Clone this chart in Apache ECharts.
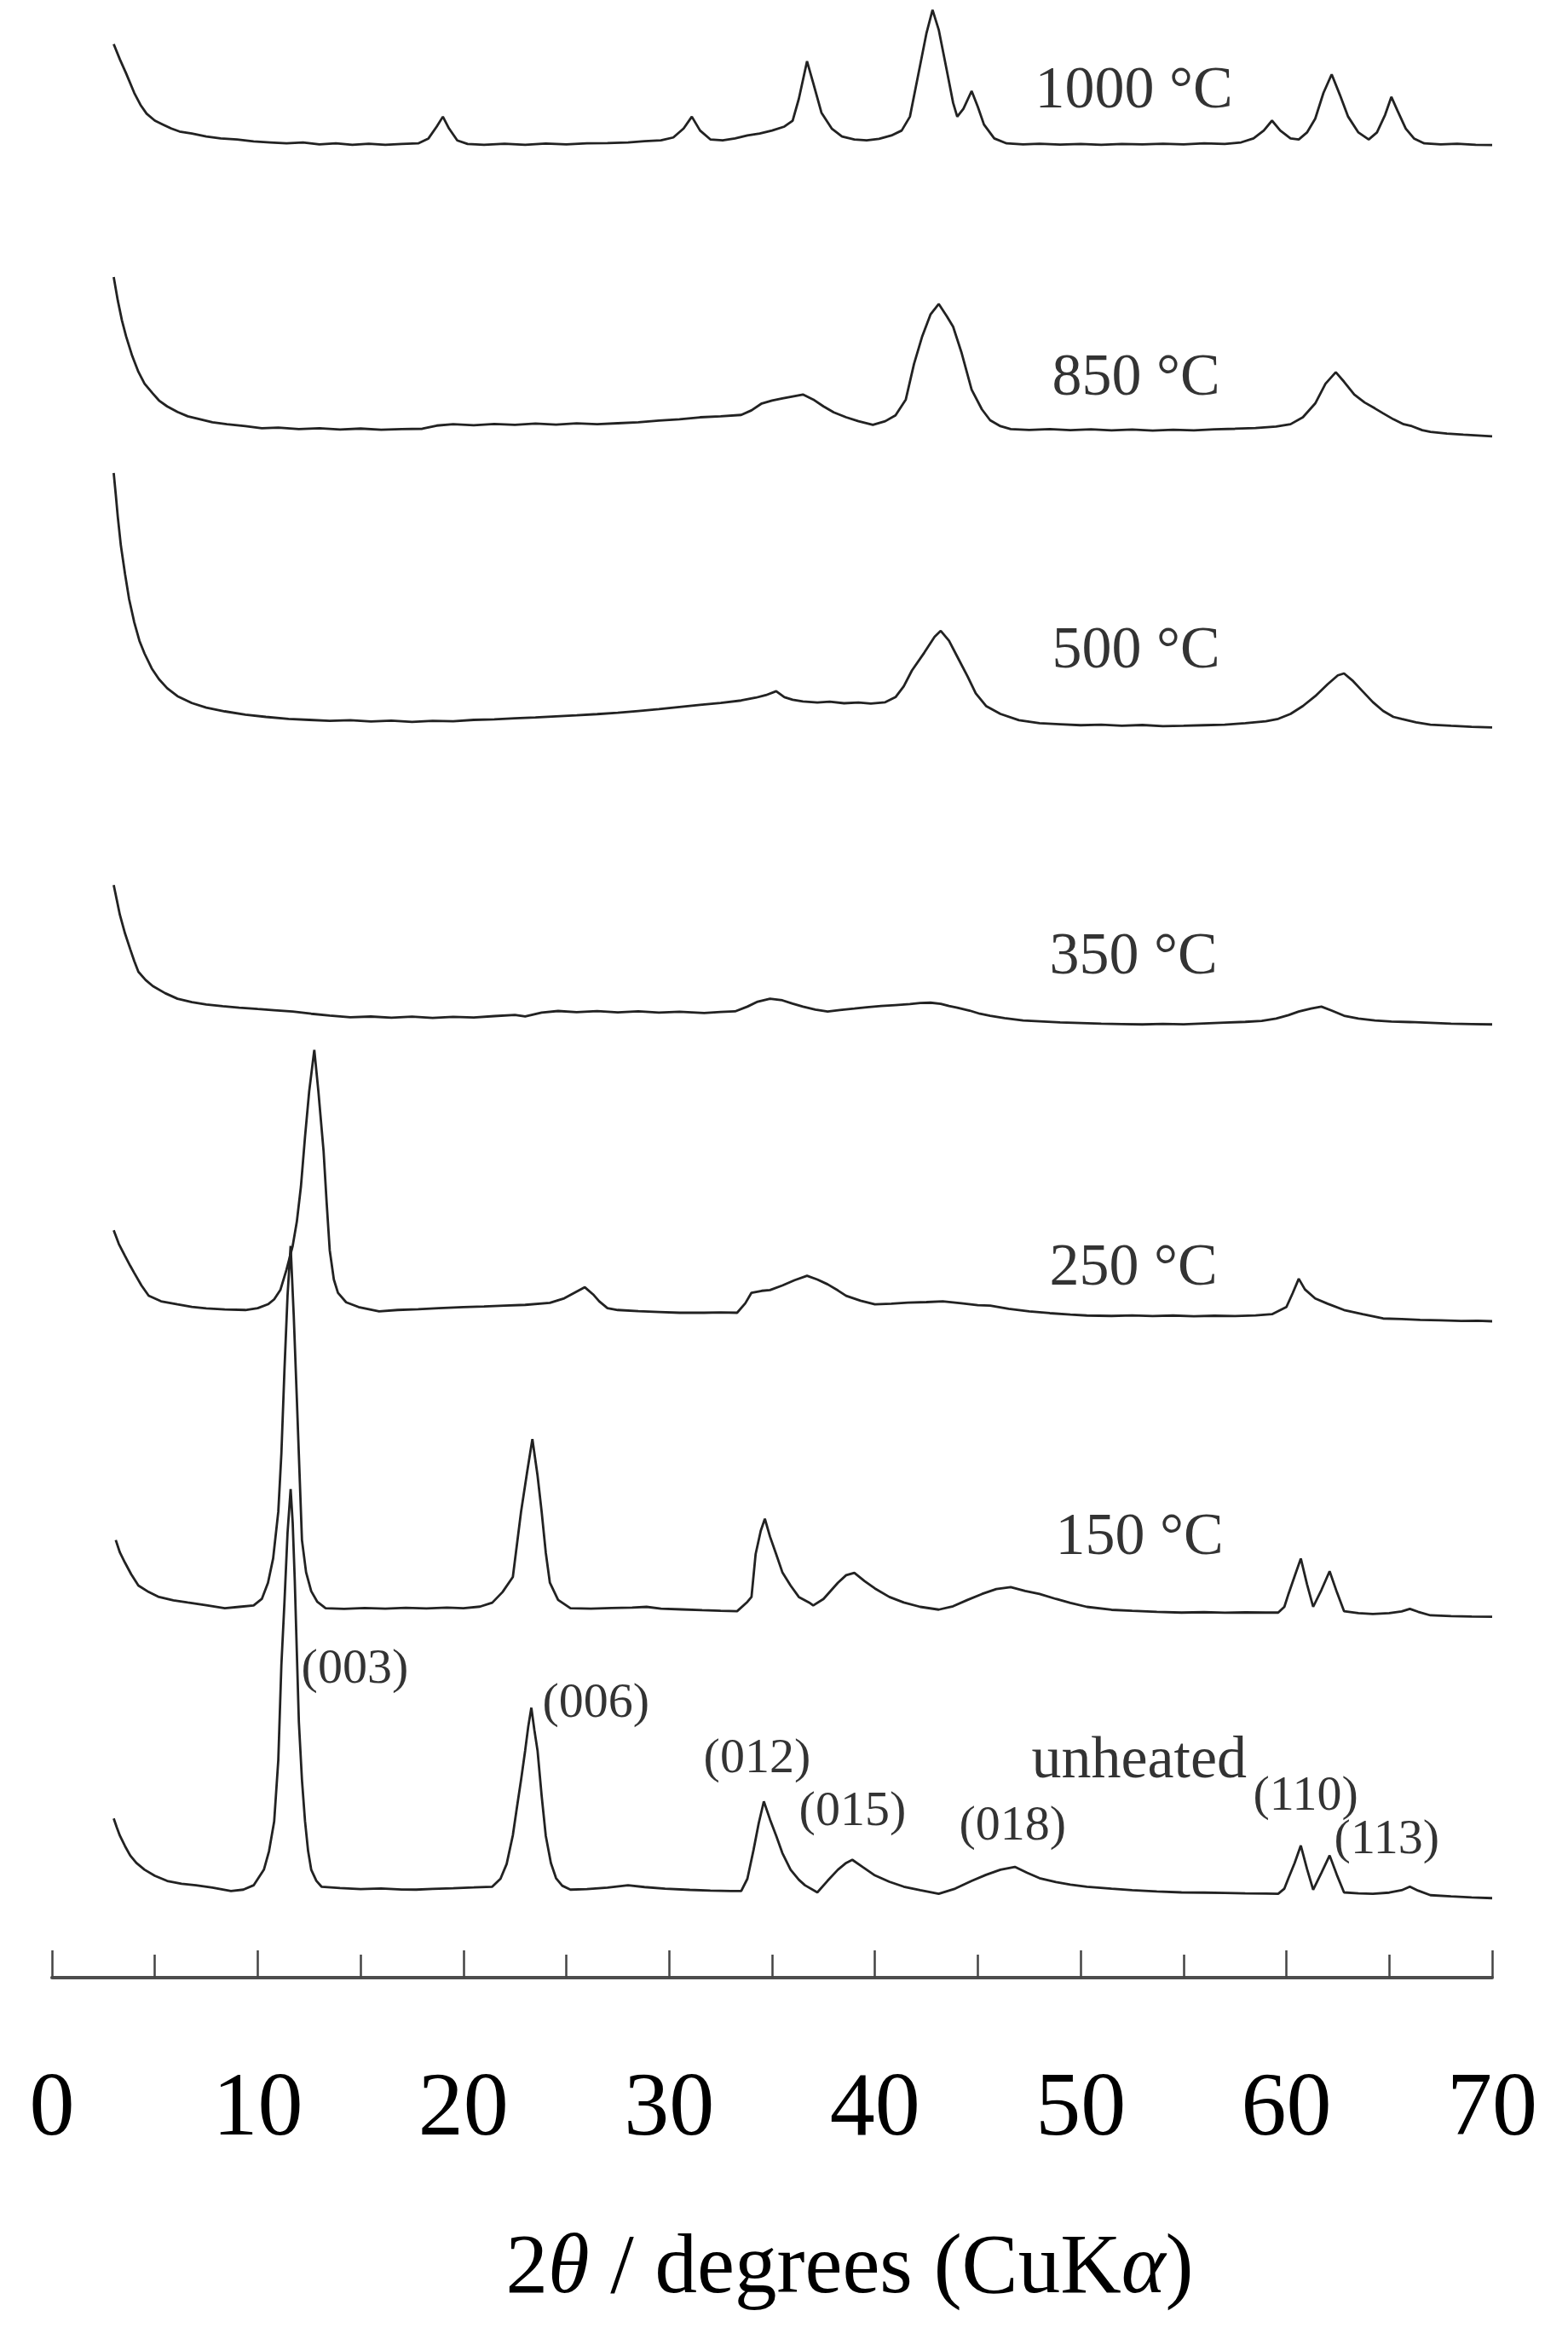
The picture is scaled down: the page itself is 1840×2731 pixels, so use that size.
<!DOCTYPE html>
<html>
<head>
<meta charset="utf-8">
<script src="https://cdn.jsdelivr.net/npm/echarts@6/dist/echarts.min.js"></script>
<style>
html,body{margin:0;padding:0;background:#fff;}
#chart{width:1840px;height:2731px;}
</style>
</head>
<body>
<div id="chart"></div>
<script>
// XRD patterns: [2theta (deg), stacked intensity (a.u.)]
const trace1000 = [[3.0,977.7],[3.3,970],[3.6,963],[4.0,953],[4.3,947],[4.6,942.5],[5.0,939],[5.4,937],[5.8,935],[6.2,933.5],[6.8,932.5],[7.5,931],[8.2,930],[9.0,929.5],[9.8,928.5],[10.6,928],[11.4,927.5],[12.2,928],[13.0,927],[13.8,927.5],[14.6,926.8],[15.4,927.3],[16.2,926.8],[17.0,927.2],[17.8,927.5],[18.3,930],[18.7,936],[19.0,941],[19.3,935],[19.7,929],[20.2,927.2],[21.0,926.8],[22.0,927.3],[23.0,926.8],[24.0,927.4],[25.0,927],[26.0,927.5],[27.0,927.6],[28.0,928],[28.8,928.6],[29.6,929],[30.2,930.5],[30.7,935],[31.1,941],[31.5,934],[32.0,929.5],[32.6,929],[33.2,930],[33.8,931.5],[34.4,932.5],[35.0,934],[35.6,936],[36.0,939],[36.3,950],[36.7,969],[37.0,958],[37.4,943],[37.9,935],[38.4,931],[39.0,929.5],[39.6,929],[40.2,929.8],[40.8,931.5],[41.3,934],[41.7,941],[42.1,962],[42.5,983],[42.8,995],[43.1,985],[43.5,964],[43.8,948],[44.0,941],[44.3,945],[44.7,954],[45.0,946],[45.3,937],[45.8,930],[46.4,927.5],[47.2,927],[48.0,927.3],[49.0,926.9],[50.0,927.2],[51.0,926.8],[52.0,927.2],[53.0,927],[54.0,927.3],[55.0,927],[56.0,927.5],[57.0,927.2],[57.8,928],[58.4,930],[58.9,934],[59.3,939],[59.7,934],[60.2,930],[60.6,929.5],[61.0,933],[61.4,940],[61.8,953],[62.2,962.4],[62.6,952],[63.0,941],[63.5,933],[64.0,929.5],[64.4,933],[64.8,942],[65.1,951],[65.4,944],[65.8,935],[66.2,930],[66.7,927.5],[67.5,927],[68.3,927.3],[69.2,926.8],[70.0,926.7]];

const trace850 = [[3.0,859.9],[3.2,848],[3.4,838],[3.6,830],[3.9,820],[4.2,812],[4.5,806],[4.9,801],[5.2,797.5],[5.6,794.5],[6.1,791.7],[6.6,789.5],[7.2,788],[7.8,786.5],[8.5,785.5],[9.4,784.5],[10.2,783.5],[11.0,783.8],[12.0,783],[13.0,783.5],[14.0,782.8],[15.0,783.3],[16.0,782.7],[17.0,783],[18.0,783.2],[18.7,784.8],[19.5,785.5],[20.5,785],[21.5,785.6],[22.5,785.2],[23.5,785.8],[24.5,785.3],[25.5,785.9],[26.5,785.5],[27.5,786],[28.5,786.5],[29.5,787.3],[30.5,788],[31.5,789],[32.5,789.5],[33.5,790.2],[34.0,792.5],[34.5,796],[35.0,797.5],[35.5,798.5],[36.0,799.5],[36.5,800.5],[37.0,798],[37.5,794.5],[38.0,791.5],[38.6,789],[39.2,787],[39.9,785.2],[40.5,787],[41.0,790],[41.5,798],[41.9,816],[42.3,830],[42.7,841],[43.1,846.3],[43.5,840],[43.8,834.8],[44.2,822],[44.7,803],[45.2,793],[45.6,787.5],[46.1,784.5],[46.6,783],[47.5,782.6],[48.5,783],[49.5,782.5],[50.5,782.9],[51.5,782.4],[52.5,782.8],[53.5,782.3],[54.5,782.7],[55.5,782.4],[56.5,782.9],[57.5,783.2],[58.5,783.6],[59.5,784.3],[60.2,785.5],[60.8,789],[61.4,796],[61.9,806],[62.4,811.8],[62.8,807],[63.3,800.5],[63.8,796.5],[64.3,793.5],[64.7,791],[65.2,788],[65.7,785.5],[66.1,784.5],[66.6,782.5],[67.0,781.6],[67.8,780.8],[68.6,780.2],[69.3,779.8],[70.0,779.4]];

const trace500 = [[3.0,760.8],[3.1,750],[3.2,738.5],[3.35,724],[3.55,709.8],[3.75,697],[4.0,685.3],[4.25,676],[4.5,669.5],[4.85,662],[5.2,656.6],[5.6,652],[6.1,648],[6.8,644.5],[7.5,642.2],[8.4,640.3],[9.4,638.6],[10.4,637.5],[11.5,636.5],[12.5,636],[13.5,635.5],[14.5,635.8],[15.5,635.2],[16.5,635.6],[17.5,635],[18.5,635.5],[19.5,635.3],[20.5,636],[21.5,636.3],[22.5,636.8],[23.5,637.2],[24.5,637.8],[25.5,638.3],[26.5,638.9],[27.5,639.6],[28.5,640.5],[29.5,641.4],[30.5,642.5],[31.5,643.6],[32.5,644.6],[33.5,645.8],[34.2,647.2],[34.7,648.5],[35.2,650.5],[35.6,647.5],[36.0,646.2],[36.5,645.3],[37.2,644.8],[37.8,645.2],[38.5,644.4],[39.2,644.8],[39.8,644.2],[40.5,644.9],[41.0,647.5],[41.4,653],[41.8,661],[42.4,670],[42.9,678],[43.2,681],[43.6,676],[44.0,668],[44.5,658],[44.9,649.4],[45.4,643],[46.1,639],[47.0,635.8],[48.0,634.3],[49.0,633.8],[50.0,633.3],[51.0,633.6],[52.0,633],[53.0,633.4],[54.0,632.8],[55.0,633],[56.0,633.3],[57.0,633.6],[58.0,634.3],[59.0,635.3],[59.6,636.5],[60.2,639],[60.8,643],[61.4,648],[62.0,654],[62.5,658.5],[62.8,659.5],[63.2,656],[63.7,650.5],[64.2,645],[64.7,640.5],[65.2,637.5],[65.6,636.5],[66.3,634.8],[67.0,633.6],[68.0,633],[69.0,632.5],[70.0,632.2]];

const trace350 = [[3.0,552.5],[3.15,545],[3.3,537.4],[3.55,528],[3.8,520.1],[4.0,514],[4.2,508.6],[4.55,504.5],[4.9,501.4],[5.5,497.8],[6.1,495],[6.8,493.3],[7.5,492.1],[8.3,491.2],[9.1,490.5],[10.0,489.8],[10.8,489.2],[11.7,488.5],[12.6,487.4],[13.5,486.5],[14.5,485.6],[15.5,486],[16.5,485.4],[17.5,485.9],[18.5,485.3],[19.5,485.8],[20.5,485.5],[21.5,486.2],[22.5,486.8],[23.0,486],[23.8,488],[24.6,488.8],[25.5,488.2],[26.5,488.7],[27.5,488.1],[28.5,488.6],[29.5,488],[30.5,488.4],[31.7,487.8],[32.5,488.3],[33.2,488.6],[33.8,491],[34.3,493.5],[34.9,495],[35.5,494.2],[36.0,492.5],[36.5,491],[37.1,489.5],[37.7,488.5],[38.3,489.3],[39.0,490],[39.6,490.7],[40.3,491.3],[41.0,491.8],[41.7,492.3],[42.2,492.8],[42.7,493],[43.2,492.4],[43.6,491.3],[44.0,490.5],[44.6,489],[45.1,487.4],[45.6,486.4],[46.3,485.2],[47.2,484],[48.0,483.6],[49.0,483],[50.0,482.7],[51.0,482.4],[52.0,482.2],[53.0,482],[54.0,482.3],[55.0,482.1],[56.0,482.5],[57.0,482.9],[58.0,483.3],[58.8,483.8],[59.5,485],[60.1,486.7],[60.6,488.5],[61.2,490],[61.7,491],[62.2,489],[62.8,486.4],[63.5,485],[64.3,484],[65.1,483.5],[66.0,483.2],[67.0,482.8],[68.0,482.4],[69.0,482.2],[70.0,482]];

const trace250 = [[3.0,377.9],[3.25,371],[3.55,364.9],[3.8,360],[4.0,356.3],[4.35,350],[4.7,344.8],[5.3,342],[6.1,340.5],[6.8,339.2],[7.5,338.4],[8.4,337.9],[9.4,337.6],[10.0,338.5],[10.5,340.5],[10.8,343],[11.1,347.7],[11.4,358],[11.7,370],[11.9,382.2],[12.1,400],[12.3,425.3],[12.5,448],[12.75,469.1],[12.95,448],[13.2,418.1],[13.35,392],[13.5,367.8],[13.7,353],[13.9,346.3],[14.3,341.5],[14.9,339.1],[15.9,336.9],[16.8,337.6],[17.8,338],[18.8,338.5],[20.0,339.1],[21.0,339.4],[22.0,339.8],[23.0,340.2],[24.2,341.2],[24.9,343.5],[25.4,346.3],[25.9,349.1],[26.3,345.5],[26.6,342],[27.0,338.5],[27.5,337.6],[28.5,337],[29.5,336.6],[30.5,336.2],[31.7,336.2],[32.5,336.4],[33.3,336.2],[33.7,341],[34.0,346.3],[34.5,347.3],[34.9,347.7],[35.5,350],[36.1,352.7],[36.7,354.9],[37.2,353],[37.7,350.6],[38.2,347.5],[38.6,344.8],[39.3,342.3],[40.0,340.5],[40.8,340.8],[41.6,341.3],[42.5,341.6],[43.3,342],[44.2,341],[45.0,340],[45.6,339.8],[46.5,338.2],[47.5,336.9],[48.5,336],[49.5,335.3],[50.3,334.8],[51.5,334.6],[52.5,334.9],[53.5,334.5],[54.5,334.8],[55.5,334.4],[56.5,334.7],[57.5,334.5],[58.5,334.9],[59.3,335.5],[60.0,339.1],[60.3,346],[60.6,353.4],[60.9,348],[61.4,343.4],[62.0,340.8],[62.8,337.6],[63.7,335.5],[64.7,333.3],[65.6,333],[66.5,332.6],[67.5,332.4],[68.5,332.1],[69.3,332.2],[70.0,331.9]];

const trace150 = [[3.1,221.3],[3.3,215],[3.55,209.8],[3.85,204],[4.2,198.3],[4.7,195],[5.2,192.5],[5.9,190.8],[6.6,189.7],[7.5,188.3],[8.4,186.8],[9.1,187.5],[9.8,188.2],[10.2,191.5],[10.5,199.7],[10.75,212],[11.0,235.6],[11.15,265],[11.3,307.5],[11.45,345],[11.6,370],[11.75,335],[11.9,293.1],[12.05,250],[12.15,221.3],[12.35,205],[12.6,195.4],[12.9,190],[13.3,186.8],[14.2,186.5],[15.2,186.9],[16.2,186.6],[17.2,187],[18.2,186.7],[19.2,187.1],[20.0,186.8],[20.8,187.6],[21.4,189.6],[21.9,195],[22.4,202.6],[22.8,235.6],[23.1,256],[23.35,272.3],[23.6,254],[23.8,235.6],[24.0,215],[24.2,199.7],[24.6,191],[25.2,186.8],[26.2,186.6],[27.2,186.9],[28.2,187.1],[28.9,187.5],[29.6,186.6],[30.6,186.2],[31.6,185.8],[32.5,185.5],[33.3,185.3],[33.8,190],[34.0,192.5],[34.2,214.1],[34.45,226],[34.65,232],[34.9,223],[35.2,214.1],[35.5,205],[35.9,198.3],[36.3,192.5],[36.8,189.7],[37.0,188.2],[37.5,191.5],[38.2,199.7],[38.6,203.5],[39.0,204.7],[39.5,200.5],[40.0,196.8],[40.7,192.5],[41.4,189.7],[42.2,187.5],[43.1,186.1],[43.8,187.8],[44.5,191],[45.2,194],[45.9,196.5],[46.6,197.5],[47.3,195.5],[48.0,194],[48.8,191.5],[49.5,189.5],[50.3,187.5],[51.5,186],[52.5,185.5],[53.7,185],[54.9,184.6],[56.0,184.8],[57.0,184.5],[58.0,184.7],[59.0,184.6],[59.6,184.6],[59.9,187.5],[60.1,194],[60.4,203],[60.7,211.9],[61.0,199],[61.3,187.5],[61.7,196],[62.1,205.5],[62.45,195],[62.8,185.3],[63.5,184.3],[64.2,183.9],[65.0,184.3],[65.6,185.2],[66.0,186.5],[66.4,185],[67.0,183.2],[68.0,182.8],[69.0,182.6],[70.0,182.5]];

const traceUnheated = [[3.0,80.5],[3.15,76],[3.3,71.8],[3.55,66.5],[3.8,61.8],[4.1,58],[4.5,54.6],[5.0,51.5],[5.6,48.9],[6.3,47.5],[7.0,46.7],[7.8,45.5],[8.7,43.8],[9.3,44.5],[9.8,46.7],[10.3,54.6],[10.55,64],[10.8,79],[11.0,110],[11.15,158.1],[11.3,190],[11.45,225],[11.6,247.1],[11.7,230],[11.8,201.1],[11.9,165],[12.0,129.3],[12.15,100],[12.3,79],[12.45,64],[12.6,54.6],[12.85,49],[13.1,46],[14.0,45.3],[15.0,44.8],[16.0,45.1],[17.0,44.6],[17.7,44.5],[18.5,44.9],[19.5,45.2],[20.5,45.6],[21.4,46],[21.8,50],[22.1,57.5],[22.4,72],[22.6,86.2],[22.8,100],[23.0,114.9],[23.15,127],[23.3,136.5],[23.45,125],[23.6,114.9],[23.8,92],[24.0,71.8],[24.25,58],[24.5,50.3],[24.8,46.5],[25.2,44.5],[26.0,44.8],[27.0,45.5],[28.0,46.7],[28.8,45.8],[29.8,45],[31.0,44.4],[32.0,44],[33.0,43.8],[33.5,43.8],[33.8,50],[34.1,64.6],[34.35,78],[34.6,89.1],[34.9,80],[35.2,71.8],[35.5,63],[35.9,54.6],[36.3,49.5],[36.6,46.7],[37.2,43.1],[37.7,49],[38.2,54.6],[38.6,58],[38.9,59.6],[39.4,56],[40.0,51.7],[40.7,48.5],[41.4,46],[42.2,44.2],[43.1,42.4],[43.9,45],[44.7,48.9],[45.4,52],[46.1,54.6],[46.8,56],[47.4,53],[48.0,50.3],[48.8,48.3],[49.5,47],[50.3,46],[51.5,45],[52.5,44.2],[53.7,43.6],[54.9,43.1],[56.0,43],[57.0,42.8],[58.0,42.6],[59.0,42.5],[59.6,42.4],[59.9,45],[60.1,50.3],[60.4,58],[60.7,66.8],[61.0,55],[61.3,44.5],[61.7,53],[62.1,61.8],[62.45,52],[62.8,43.1],[63.5,42.6],[64.2,42.4],[65.0,43],[65.6,44.2],[66.0,46],[66.4,44],[67.0,41.7],[68.0,41.1],[69.0,40.6],[70.0,40.2]];

const sampleNames = ['1000 °C', '850 °C', '500 °C', '350 °C', '250 °C', '150 °C', 'unheated'];
const sampleTraces = [trace1000, trace850, trace500, trace350, trace250, trace150, traceUnheated];
// label anchors in data coordinates [2theta, a.u.]
const sampleLabelAt = [[47.80, 953.4], [48.63, 808.2], [48.63, 670.3], [48.50, 515.5], [48.50, 358.2], [48.79, 222.0], [47.63, 109.1]];

const millerIndices = ['(003)', '(006)', '(012)', '(015)', '(018)', '(110)', '(113)'];
const millerLabelAt = [[12.14, 155.6], [23.86, 138.4], [31.69, 110.3], [36.33, 83.6], [44.11, 76.3], [58.40, 91.4], [62.34, 69.4]];

const xMin = 0, xMax = 70, xInterval = 10;

const serif = '"Liberation Serif", "Times New Roman", serif';
const chart = echarts.init(document.getElementById('chart'), null, {renderer: 'canvas'});

const series = sampleTraces.map((tr, i) => ({
  type: 'line',
  name: sampleNames[i],
  data: tr,
  symbol: 'none',
  showSymbol: false,
  lineStyle: {color: '#222222', width: 2.8},
  silent: true,
  z: 2
}));

function textSeries(names, anchors, fontSize) {
  return {
    type: 'scatter',
    data: names.map((n, i) => ({name: n, value: anchors[i]})),
    symbolSize: 1,
    itemStyle: {color: 'rgba(0,0,0,0)'},
    silent: true,
    z: 5,
    label: {
      show: true,
      formatter: '{b}',
      position: [0, 0],
      align: 'left',
      verticalAlign: 'middle',
      fontFamily: serif,
      fontSize: fontSize,
      color: '#000'
    }
  };
}
series.push(textSeries(sampleNames, sampleLabelAt, 70));
series.push(textSeries(millerIndices, millerLabelAt, 58));

chart.setOption({
  animation: false,
  backgroundColor: '#ffffff',
  grid: {left: 61, right: 89, top: 0, bottom: 411, containLabel: false},
  xAxis: {
    type: 'value',
    min: xMin,
    max: xMax,
    interval: xInterval,
    name: '2{i|θ} / degrees (CuK{i|α})',
    nameLocation: 'middle',
    nameGap: 293,
    nameTextStyle: {
      fontFamily: serif,
      fontSize: 99,
      color: '#000',
      padding: [0, 0, 0, 182],
      rich: {
        i: {fontFamily: serif, fontSize: 99, fontStyle: 'italic', color: '#000'}
      }
    },
    axisLine: {show: true, onZero: false, lineStyle: {color: '#4d4d4d', width: 4}},
    axisTick: {show: true, inside: true, length: 32, lineStyle: {color: '#444', width: 2.5}},
    minorTick: {show: true, splitNumber: 2, length: 27, lineStyle: {color: '#444', width: 2.5}},
    splitLine: {show: false},
    minorSplitLine: {show: false},
    axisLabel: {
      margin: 103,
      fontFamily: serif,
      fontSize: 106,
      color: '#000'
    }
  },
  yAxis: {
    type: 'value',
    min: 0,
    max: 1000,
    show: false
  },
  series: series
});
</script>
</body>
</html>
